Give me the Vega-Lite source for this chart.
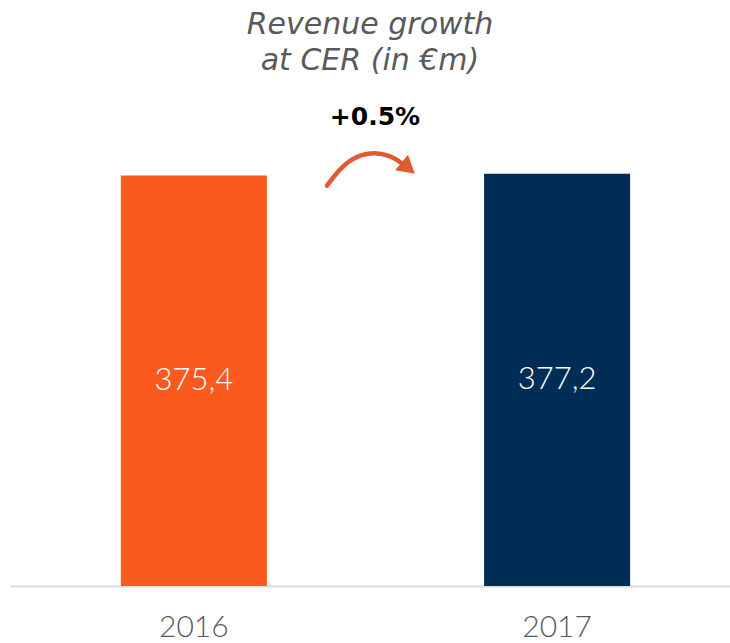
{
  "$schema": "https://vega.github.io/schema/vega-lite/v6.json",
  "autosize": "none",
  "width": 720,
  "height": 481,
  "padding": {"left": 10, "top": 105, "right": 0, "bottom": 57},
  "background": "white",
  "config": {"view": {"stroke": null}},
  "title": {
    "text": ["Revenue growth", "at CER (in €m)"],
    "fontSize": 30,
    "fontStyle": "italic",
    "fontWeight": "normal",
    "font": "DejaVu Sans",
    "color": "#595959",
    "lineHeight": 36,
    "anchor": "middle",
    "offset": 29
  },
  "datasets": {
    "bars": [
      {"year": "2016", "value": 375.4, "label": "375,4"},
      {"year": "2017", "value": 377.2, "label": "377,2"}
    ],
    "arrow": [
      {"px": 317, "v": 366.2},
      {"px": 335, "v": 388.2},
      {"px": 358, "v": 397.4},
      {"px": 380, "v": 394.6},
      {"px": 395, "v": 384.5}
    ],
    "head": [{"px": 396, "v": 384.0}],
    "growth": [{"px": 365, "v": 429.4, "text": "+0.5%"}]
  },
  "layer": [
    {
      "data": {"name": "bars"},
      "layer": [
        {
          "mark": {"type": "bar"},
          "encoding": {
            "x": {
              "field": "year", "type": "nominal",
              "scale": {"paddingInner": 0.598, "paddingOuter": 0.29, "align": 0.526},
              "axis": {
                "title": null, "labelAngle": 0, "ticks": false,
                "domainColor": "#D9D9D9", "domainWidth": 2,
                "labelFont": "Lato", "labelFontWeight": 300, "labelFontSize": 30,
                "labelColor": "#595959", "labelPadding": 26
              }
            },
            "y": {
              "field": "value", "type": "quantitative",
              "scale": {"domain": [0, 440], "nice": false},
              "axis": null
            },
            "color": {
              "field": "year", "type": "nominal",
              "scale": {"domain": ["2016", "2017"], "range": ["#FA5A1E", "#002D55"]},
              "legend": null
            }
          }
        },
        {
          "transform": [{"calculate": "datum.value / 2", "as": "mid"}],
          "mark": {"type": "text", "color": "white", "font": "Lato", "fontWeight": 300, "fontSize": 31, "baseline": "middle"},
          "encoding": {
            "x": {"field": "year", "type": "nominal"},
            "y": {"field": "mid", "type": "quantitative"},
            "text": {"field": "label"}
          }
        }
      ]
    },
    {
      "data": {"name": "arrow"},
      "mark": {"type": "line", "interpolate": "basis", "color": "#E05A34", "strokeWidth": 4.5, "strokeCap": "round"},
      "encoding": {
        "x": {"field": "px", "type": "quantitative", "scale": {"domain": [0, 720], "nice": false}, "axis": null},
        "y": {"field": "v", "type": "quantitative"}
      }
    },
    {
      "data": {"name": "head"},
      "mark": {"type": "point", "shape": "triangle", "filled": true, "color": "#E05A34", "opacity": 1, "size": 400, "angle": 130},
      "encoding": {
        "x": {"field": "px", "type": "quantitative", "scale": {"domain": [0, 720], "nice": false}, "axis": null},
        "y": {"field": "v", "type": "quantitative"}
      }
    },
    {
      "data": {"name": "growth"},
      "mark": {"type": "text", "font": "DejaVu Sans", "fontWeight": "bold", "fontSize": 25, "color": "black", "baseline": "middle"},
      "encoding": {
        "x": {"field": "px", "type": "quantitative", "scale": {"domain": [0, 720], "nice": false}, "axis": null},
        "y": {"field": "v", "type": "quantitative"},
        "text": {"field": "text"}
      }
    }
  ],
  "resolve": {"scale": {"x": "independent"}, "axis": {"x": "independent"}}
}
